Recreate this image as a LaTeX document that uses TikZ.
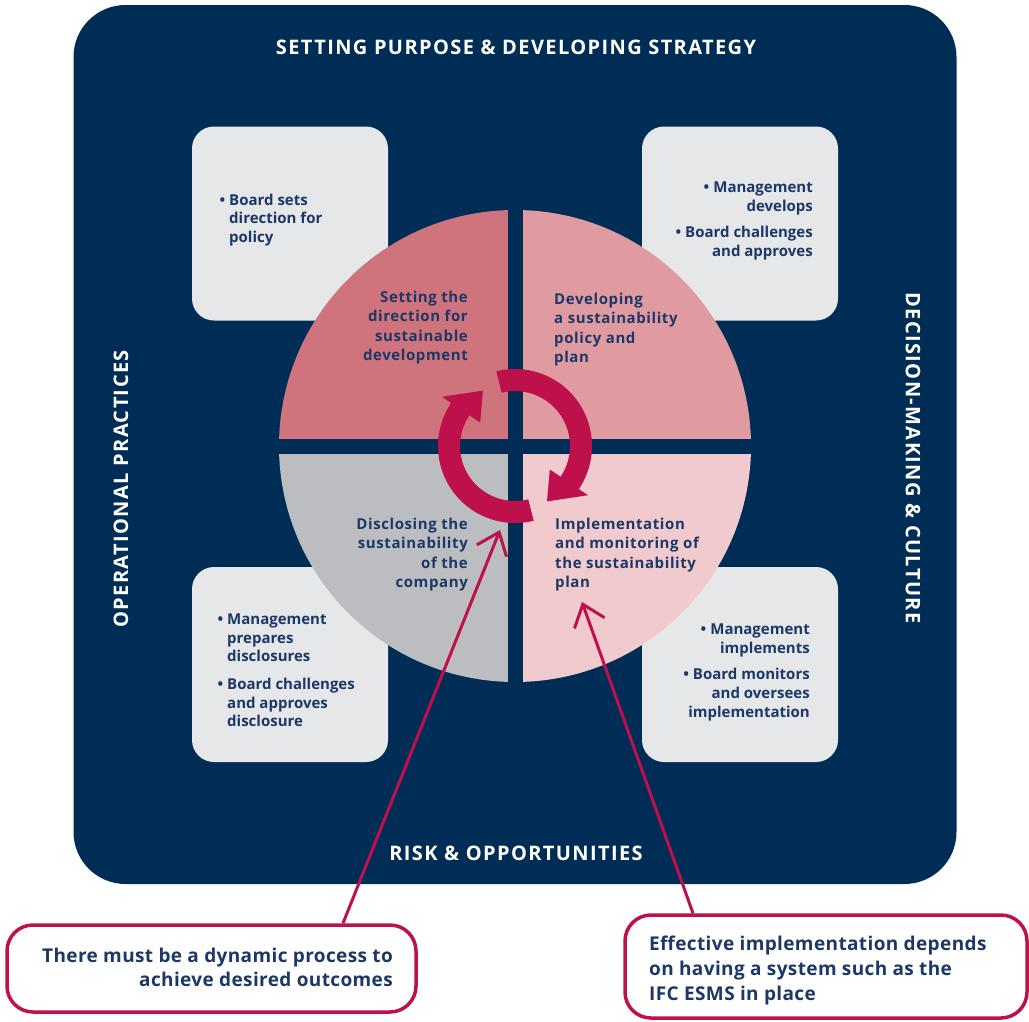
\documentclass[tikz,border=0pt]{standalone}
\usepackage{fontspec}
\setmainfont{Open Sans}
\newfontfamily\headfont{Open Sans}[LetterSpace=7]
\newfontfamily\quadfont{Open Sans}[LetterSpace=4]
\newfontfamily\callfont{Open Sans}[LetterSpace=2]
\usetikzlibrary{arrows.meta}
\definecolor{navy}{RGB}{0,45,86}
\definecolor{ink}{RGB}{28,56,104}
\definecolor{crimson}{RGB}{190,16,75}
\definecolor{panel}{RGB}{230,231,233}
\definecolor{qa}{RGB}{207,115,124}
\definecolor{qb}{RGB}{224,155,161}
\definecolor{qc}{RGB}{240,202,205}
\definecolor{qd}{RGB}{188,189,193}
\begin{document}
\begin{tikzpicture}[x=1pt,y=-1pt,
  panelbox/.style={fill=panel,rounded corners=22pt,inner sep=0pt,minimum width=196pt,minimum height=194pt},
  heading/.style={text=white,font=\headfont\fontsize{20}{24}\selectfont\bfseries,inner sep=0pt},
  quadtext/.style={text=ink,font=\quadfont\fontsize{15}{19.5}\selectfont\bfseries,inner sep=0pt},
  paneltext/.style={text=ink,font=\fontsize{15}{18.7}\selectfont\bfseries,inner sep=0pt},
  calloutbox/.style={draw=crimson,line width=3.5pt,rounded corners=26pt,fill=white,inner sep=0pt},
  callouttext/.style={text=ink,font=\callfont\fontsize{19}{24.8}\selectfont\bfseries,inner sep=0pt},
  pointer/.style={draw=crimson,line width=3pt,-{Straight Barb[length=20pt,width=32pt]}},
]
\useasboundingbox (0,0) rectangle (1029,1021);
\clip (0,0) rectangle (1029,1021);
\fill[white] (0,0) rectangle (1029,1021);

% navy frame
\node[fill=navy,rounded corners=52pt,inner sep=0pt,minimum width=883pt,minimum height=879pt] (frame) at (515,444.5) {};

% grey panels in the corners
\node[panelbox] (pTL) at (290,223.5) {};
\node[panelbox] (pTR) at (740,223.5) {};
\node[panelbox,minimum height=195pt] (pBL) at (290,664.5) {};
\node[panelbox,minimum height=195pt] (pBR) at (740,664.5) {};

% quartered disc
\coordinate (c) at (515,446);
\fill[qa] (c) -- ++(180:236) arc[start angle=180,end angle=270,radius=236] -- cycle;
\fill[qb] (c) -- ++(270:236) arc[start angle=270,end angle=360,radius=236] -- cycle;
\fill[qc] (c) -- ++(0:236) arc[start angle=0,end angle=90,radius=236] -- cycle;
\fill[qd] (c) -- ++(90:236) arc[start angle=90,end angle=180,radius=236] -- cycle;
\fill[navy] (507.5,200) rectangle (522.5,692);
\fill[navy] (270,438.5) rectangle (760,453.5);

% circular arrows
\begin{scope}[shift={(515,446)}]
  \fill[crimson] (-104:77) arc[start angle=-104,end angle=34,radius=77]
     -- (34:88) -- (60:64) -- (34:42) -- (34:55)
     arc[start angle=34,end angle=-104,radius=55] -- cycle;
  \fill[crimson] (76:77) arc[start angle=76,end angle=214,radius=77]
     -- (214:88) -- (240:64) -- (214:42) -- (214:55)
     arc[start angle=214,end angle=76,radius=55] -- cycle;
\end{scope}

% frame headings
\node[heading] (hTop) at (516,47) {SETTING PURPOSE \& DEVELOPING STRATEGY};
\node[heading] (hBottom) at (516,853) {RISK \& OPPORTUNITIES};
\node[heading,rotate=90] (hLeft) at (121,489) {OPERATIONAL PRACTICES};
\node[heading,rotate=-90] (hRight) at (913,458) {DECISION-MAKING \& CULTURE};

% quadrant labels
\node[quadtext,anchor=north east,align=right] (tTL) at (468,290.5)
  {Setting the\\direction for\\sustainable\\development};
\node[quadtext,anchor=north west,align=left] (tTR) at (554,292.5)
  {Developing\\a sustainability\\policy and\\plan};
\node[quadtext,anchor=north east,align=right] (tBL) at (468,517.5)
  {Disclosing the\\sustainability\\of the\\company};
\node[quadtext,anchor=north west,align=left] (tBR) at (555,517.5)
  {Implementation\\and monitoring of\\ the sustainability\\plan};

% panel texts
\node[paneltext,anchor=north west,align=left] (bTL) at (229,193.5)
  {\llap{\textbullet\hspace{4pt}}Board sets\\direction for\\policy};
\node[paneltext,anchor=north east,align=right] (bTR) at (813,182)
  {\textbullet\hspace{4pt}Management\\develops\\[7pt]\textbullet\hspace{4pt}Board challenges\\and approves};
\node[paneltext,anchor=north west,align=left] (bBL) at (227,613.5)
  {\llap{\textbullet\hspace{4pt}}Management\\prepares\\disclosures\\[9pt]\llap{\textbullet\hspace{4pt}}Board challenges\\and approves\\disclosure};
\node[paneltext,anchor=north east,align=right] (bBR) at (810,623.5)
  {\textbullet\hspace{4pt}Management\\implements\\[8pt]\textbullet\hspace{4pt}Board monitors\\and oversees\\implementation};

% callouts
\node[calloutbox,minimum width=409pt,minimum height=87pt] (call1) at (211.5,968.5) {};
\node[callouttext,anchor=north east,align=right] (ct1) at (393,947.5)
  {There must be a dynamic process to\\achieve desired outcomes};
\node[calloutbox,minimum width=402pt,minimum height=103pt] (call2) at (826,966.5) {};
\node[callouttext,anchor=north west,align=left] (ct2) at (649,936)
  {Effective implementation depends\\on having a system such as the\\IFC ESMS in place};

% pointers into the disc
\coordinate (tip1) at (500,530);
\coordinate (tip2) at (582,602);
\draw[pointer] ([xshift=131.5pt]call1.north) -- (tip1);
\draw[pointer] ([xshift=-133pt]call2.north) -- (tip2);
\end{tikzpicture}
\end{document}
